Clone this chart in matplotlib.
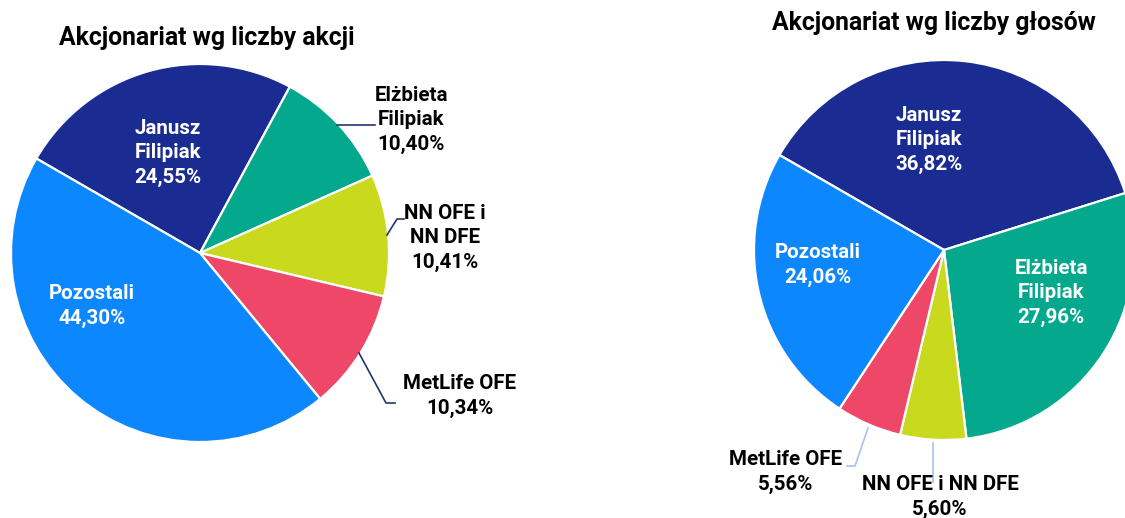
import matplotlib
matplotlib.use("Agg")
import matplotlib.pyplot as plt

plt.rcParams['font.family'] = ['Roboto', 'DejaVu Sans']

# ---- data ----
categories = ["Janusz Filipiak", "Elżbieta Filipiak", "NN OFE i NN DFE", "MetLife OFE", "Pozostali"]
shares_akcje = [24.55, 10.40, 10.41, 10.34, 44.30]
shares_glosy = [36.82, 27.96, 5.60, 5.56, 24.06]
title_akcje = "Akcjonariat wg liczby akcji"
title_glosy = "Akcjonariat wg liczby głosów"

colors = ["#1a2b91", "#03a88d", "#c9d91d", "#ee4767", "#0c87fe"]

W, H = 1125, 518
fig = plt.figure(figsize=(W / 100, H / 100), dpi=100)
ax = fig.add_axes([0, 0, 1, 1])


def P(x, y):
    return (x, H - y)


def pct(v):
    return f"{v:.2f}".replace(".", ",") + "%"


wp = dict(edgecolor="white", linewidth=1.6)
ax.pie(shares_akcje, colors=colors, startangle=150, counterclock=False,
       center=P(200, 253), radius=189, wedgeprops=wp)
ax.pie(shares_glosy, colors=colors, startangle=150, counterclock=False,
       center=P(944, 250), radius=190, wedgeprops=wp)

ax.set_xlim(0, W)
ax.set_ylim(0, H)
ax.set_aspect("equal")
ax.axis("off")

fs = 14.8
tkw = dict(ha="center", va="center", fontsize=fs, fontweight="bold", linespacing=1.33)

# titles
ax.text(*P(207, 38), title_akcje, ha="center", va="center", fontsize=17.8, fontweight="bold", color="black")
ax.text(*P(934, 23), title_glosy, ha="center", va="center", fontsize=17.8, fontweight="bold", color="black")

# left pie labels
ax.text(*P(168, 153), "Janusz\nFilipiak\n" + pct(shares_akcje[0]), color="white", **tkw)
ax.text(*P(92, 306), "Pozostali\n" + pct(shares_akcje[4]), color="white", **tkw)
ax.text(*P(411, 120), "Elżbieta\nFilipiak\n" + pct(shares_akcje[1]), color="black", **tkw)
ax.text(*P(445, 238), "NN OFE i\nNN DFE\n" + pct(shares_akcje[2]), color="black", **tkw)
ax.text(*P(460, 396), "MetLife OFE\n" + pct(shares_akcje[3]), color="black", **tkw)

lc_left = "#23336f"
for pts in ([(337, 125), (375, 125)],
            [(387, 235), (397, 219), (404, 219)],
            [(359, 353), (386, 403), (395, 403)]):
    xs, ys = zip(*[P(x, y) for x, y in pts])
    ax.plot(xs, ys, color=lc_left, lw=1.2)

# right pie labels
ax.text(*P(929, 140), "Janusz\nFilipiak\n" + pct(shares_glosy[0]), color="white", **tkw)
ax.text(*P(818, 265), "Pozostali\n" + pct(shares_glosy[4]), color="white", **tkw)
ax.text(*P(1051, 293), "Elżbieta\nFilipiak\n" + pct(shares_glosy[1]), color="white", **tkw)
ax.text(*P(786, 472), "MetLife OFE\n" + pct(shares_glosy[3]), color="black", **tkw)
ax.text(*P(940, 497), "NN OFE i NN DFE\n" + pct(shares_glosy[2]), color="black", **tkw)

lc_right = "#a9c2ea"
for pts in ([(868, 428), (855, 466), (847, 466)],
            [(933, 443), (933, 482)]):
    xs, ys = zip(*[P(x, y) for x, y in pts])
    ax.plot(xs, ys, color=lc_right, lw=1.2)

fig.savefig("out.png", dpi=100, facecolor="white")
